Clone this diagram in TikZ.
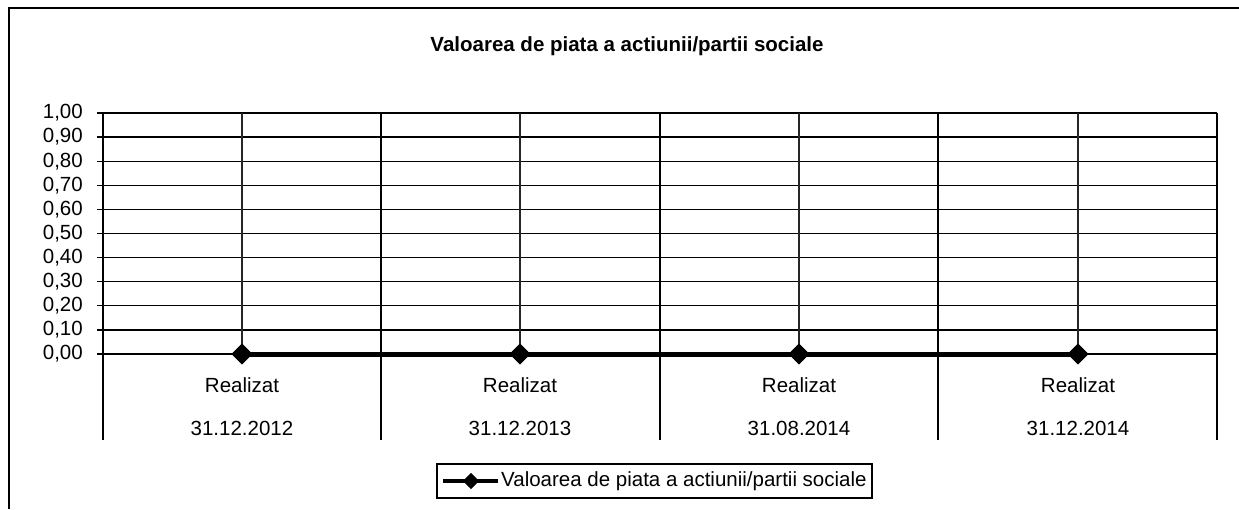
\documentclass[tikz,border=0pt]{standalone}
\usepackage{fontspec}
\setmainfont{Liberation Sans}
\usetikzlibrary{shapes.geometric}
\begin{document}
\begin{tikzpicture}[x=1pt,y=-1pt,
  lbl/.style={font=\fontsize{20.5}{24}\selectfont, inner sep=0pt},
  grid/.style={line width=1.3pt, black},
  cgrid/.style={line width=1.1pt, black!85},
  mk/.style={diamond, fill=black, draw=none, inner sep=0pt, minimum width=21pt, minimum height=21pt},
  series/.style={line width=5pt, black}]
\useasboundingbox (0,0) rectangle (1239,509);
% outer frame (top and left only)
\draw[line width=1.6pt] (9,509) -- (9,8) -- (1239,8);
% title
\node[lbl, font=\fontsize{20.5}{24}\selectfont\bfseries] (title) at (627,46) {Valoarea de piata a actiunii/partii sociale};
% horizontal grid lines and y labels
\foreach \k/\t in {0/{0,00},1/{0,10},2/{0,20},3/{0,30},4/{0,40},5/{0,50},6/{0,60},7/{0,70},8/{0,80},9/{0,90},10/{1,00}}{
  \pgfmathsetmacro{\yy}{354-24.1*\k}
  \draw[grid] (97,\yy) -- (1217,\yy);
  \node[lbl, anchor=east] (ylab\k) at (83,\yy) {\t};
}
\draw[line width=2pt] (103,113) -- (1217,113);
% category boundaries
\foreach \x in {103,381,660,938,1217}{
  \draw[grid] (\x,113) -- (\x,440);
}
% category centres, markers and labels
\foreach \i/\x/\d in {1/242/31.12.2012,2/520/31.12.2013,3/799/31.08.2014,4/1078/31.12.2014}{
  \draw[cgrid] (\x,113) -- (\x,354);
  \node[mk] (d\i) at (\x,354) {};
  \node[lbl] (real\i) at (\x,385) {Realizat};
  \node[lbl] (date\i) at (\x,428) {\d};
}
\draw[series] (d1.center) -- (d2.center) -- (d3.center) -- (d4.center);
\foreach \i in {1,2,3,4}{ \node[mk] at (d\i) {}; }
% legend
\node[draw, line width=1.2pt, minimum width=435pt, minimum height=34pt, inner sep=0pt] (legend) at (654.5,481) {};
\coordinate (ls) at (443,481);
\coordinate (le) at (498,481);
\node[mk, minimum width=16pt, minimum height=16pt] (lm) at (471,481) {};
\draw[series, line width=4.5pt] (ls) -- (le);
\node[mk, minimum width=16pt, minimum height=16pt] at (lm) {};
\node[lbl, anchor=west] (legtext) at (501,481) {Valoarea de piata a actiunii/partii sociale};
\end{tikzpicture}
\end{document}
